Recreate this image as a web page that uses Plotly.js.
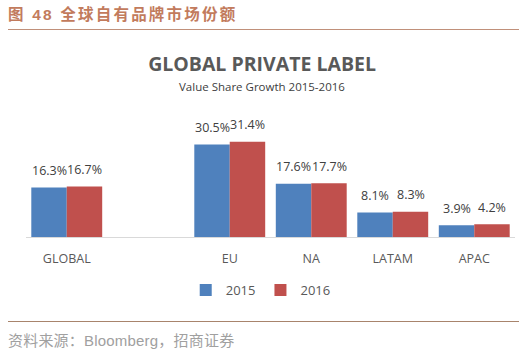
<!DOCTYPE html>
<html>
<head>
<meta charset="utf-8">
<script src="https://cdn.plot.ly/plotly-3.0.1.min.js"></script>
<style>
  html, body { margin: 0; padding: 0; background: #ffffff; }
  #wrap { position: relative; width: 522px; height: 354px; overflow: hidden; }
  #chart { position: absolute; left: 0; top: 0; width: 522px; height: 354px; }
  #header { position: absolute; left: 8px; top: 5px; font-family: "Liberation Sans", "Noto Sans CJK SC", sans-serif; font-weight: 700; font-size: 15.5px; letter-spacing: 2.2px; color: #c27b5d; white-space: nowrap; line-height: 20px; }
  #hline { position: absolute; left: 8px; top: 29px; width: 511px; height: 0; border-top: 1px solid #c0907a; }
  #fline { position: absolute; left: 8px; top: 321px; width: 511px; height: 0; border-top: 1px solid #a8846c; }
  #footer { position: absolute; left: 8px; top: 332px; font-family: "Liberation Sans", "Noto Sans CJK SC", sans-serif; font-size: 15px; letter-spacing: 0.2px; color: #a0a0a0; white-space: nowrap; line-height: 18px; }
</style>
</head>
<body>
<div id="wrap">
  <div id="chart"></div>
  <div id="header">图 48 全球自有品牌市场份额</div>
  <div id="hline"></div>
  <div id="fline"></div>
  <div id="footer">资料来源：Bloomberg，招商证券</div>
</div>
<script>
const categories = ['GLOBAL', ' ', 'EU', 'NA', 'LATAM', 'APAC'];
const seriesNames = ['2015', '2016'];
const values2015 = [16.3, null, 30.5, 17.6, 8.1, 3.9];
const values2016 = [16.7, null, 31.4, 17.7, 8.3, 4.2];
const colors = ['#4F81BD', '#C0504D'];

const font = '"Open Sans", "Liberation Sans", sans-serif';

const traces = [values2015, values2016].map((vals, i) => ({
  type: 'bar',
  name: seriesNames[i],
  x: categories,
  y: vals,
  marker: { color: colors[i] },
  hoverinfo: 'skip'
}));

const annotations = [];
[values2015, values2016].forEach((vals, i) => {
  vals.forEach((v, j) => {
    if (v === null) return;
    annotations.push({
      x: categories[j], y: v, xref: 'x', yref: 'y',
      text: v.toFixed(1) + '%',
      showarrow: false,
      xshift: i === 0 ? -17.75 : 17.75,
      yshift: 17,
      yanchor: 'middle',
      font: { family: font, size: 12.5, color: '#404040' }
    });
  });
});
annotations.push({
  x: 0.483, y: 1.095, xref: 'paper', yref: 'paper',
  text: 'Value Share Growth 2015-2016', showarrow: false,
  yanchor: 'middle',
  font: { family: font, size: 11.5, color: '#404040' }
});

const layout = {
  width: 522, height: 354,
  margin: { l: 26, r: 7, t: 100, b: 117 },
  paper_bgcolor: 'rgba(0,0,0,0)',
  plot_bgcolor: 'rgba(0,0,0,0)',
  barmode: 'group',
  bargap: 0.13,
  bargroupgap: 0,
  showlegend: true,
  title: {
    text: 'GLOBAL PRIVATE LABEL',
    x: 0.502, xref: 'container', xanchor: 'center',
    y: 1 - 64 / 354, yref: 'container', yanchor: 'middle',
    font: { family: font, size: 19.5, color: '#595959', weight: 700 }
  },
  xaxis: {
    type: 'category',
    categoryorder: 'array',
    categoryarray: categories,
    showgrid: false,
    zeroline: false,
    showline: true,
    linecolor: '#d9d9d9',
    linewidth: 1,
    ticks: '',
    ticklabelstandoff: 10,
    tickfont: { family: font, size: 12.5, color: '#595959' },
    fixedrange: true
  },
  yaxis: {
    range: [0, 45.2],
    visible: false,
    showgrid: false,
    zeroline: false,
    fixedrange: true
  },
  legend: {
    orientation: 'h',
    x: 0.480, xanchor: 'center',
    y: -0.387, yanchor: 'middle',
    font: { family: font, size: 13, color: '#595959' },
    bgcolor: 'rgba(0,0,0,0)'
  },
  annotations: annotations
};

Plotly.newPlot('chart', traces, layout, { displayModeBar: false, staticPlot: true });
</script>
</body>
</html>
